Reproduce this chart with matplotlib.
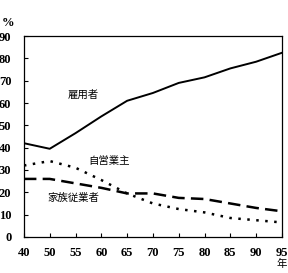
import matplotlib
matplotlib.use("Agg")
from matplotlib import pyplot as plt

years = ["40", "50", "55", "60", "65", "70", "75", "80", "85", "90", "95"]
employees = [42, 39.5, 46.5, 54, 61, 64.5, 69, 71.5, 75.5, 78.5, 82.5]
self_employed = [32, 34, 31, 25.5, 19.5, 15, 12.5, 11, 8.5, 7.5, 6.5]
family_workers = [26, 26, 24, 22, 19.5, 19.5, 17.5, 17, 15, 13, 11.5]
y_ticks = [0, 10, 20, 30, 40, 50, 60, 70, 80, 90]

jp_font = ["Noto Sans CJK JP", "DejaVu Sans"]
num_font = "Liberation Serif"

fig = plt.figure(figsize=(2.88, 2.73), dpi=100)
ax = fig.add_axes([0.083, 0.132, 0.896, 0.736])

x = list(range(len(years)))
ax.plot(x, employees, color="black", lw=1.4)
ax.plot(x, self_employed, color="black", lw=1.8, linestyle=(0, (1, 2.6)))
ax.plot(x, family_workers, color="black", lw=1.8, linestyle=(0, (5, 2.5)))

ax.set_xlim(0, len(years) - 1)
ax.set_ylim(0, 90)
ax.set_xticks(x)
ax.set_xticklabels(years, fontfamily=num_font, fontweight="bold", fontsize=9)
ax.set_yticks(y_ticks)
ax.set_yticklabels([str(v) for v in y_ticks], fontfamily=num_font,
                   fontweight="bold", fontsize=9)
ax.tick_params(direction="in", length=3, width=0.8)
ax.tick_params(axis="y", pad=9)
ax.tick_params(axis="x", pad=7)
for s in ax.spines.values():
    s.set_linewidth(0.9)

ax.text(-0.062, 1.035, "%", transform=ax.transAxes, ha="center", va="bottom",
        fontsize=9, fontweight="bold", fontfamily=num_font)
fig.text(0.995, 0.032, "年", ha="right", va="center",
         fontsize=7.5, fontfamily=jp_font)

ax.text(2.3, 63.5, "雇用者", fontsize=7.5, fontfamily=jp_font, ha="center", va="center")
ax.text(3.3, 34, "自営業主", fontsize=7.5, fontfamily=jp_font, ha="center", va="center")
ax.text(1.9, 17.5, "家族従業者", fontsize=7.5, fontfamily=jp_font, ha="center", va="center")

fig.savefig("out.png", dpi=100)
